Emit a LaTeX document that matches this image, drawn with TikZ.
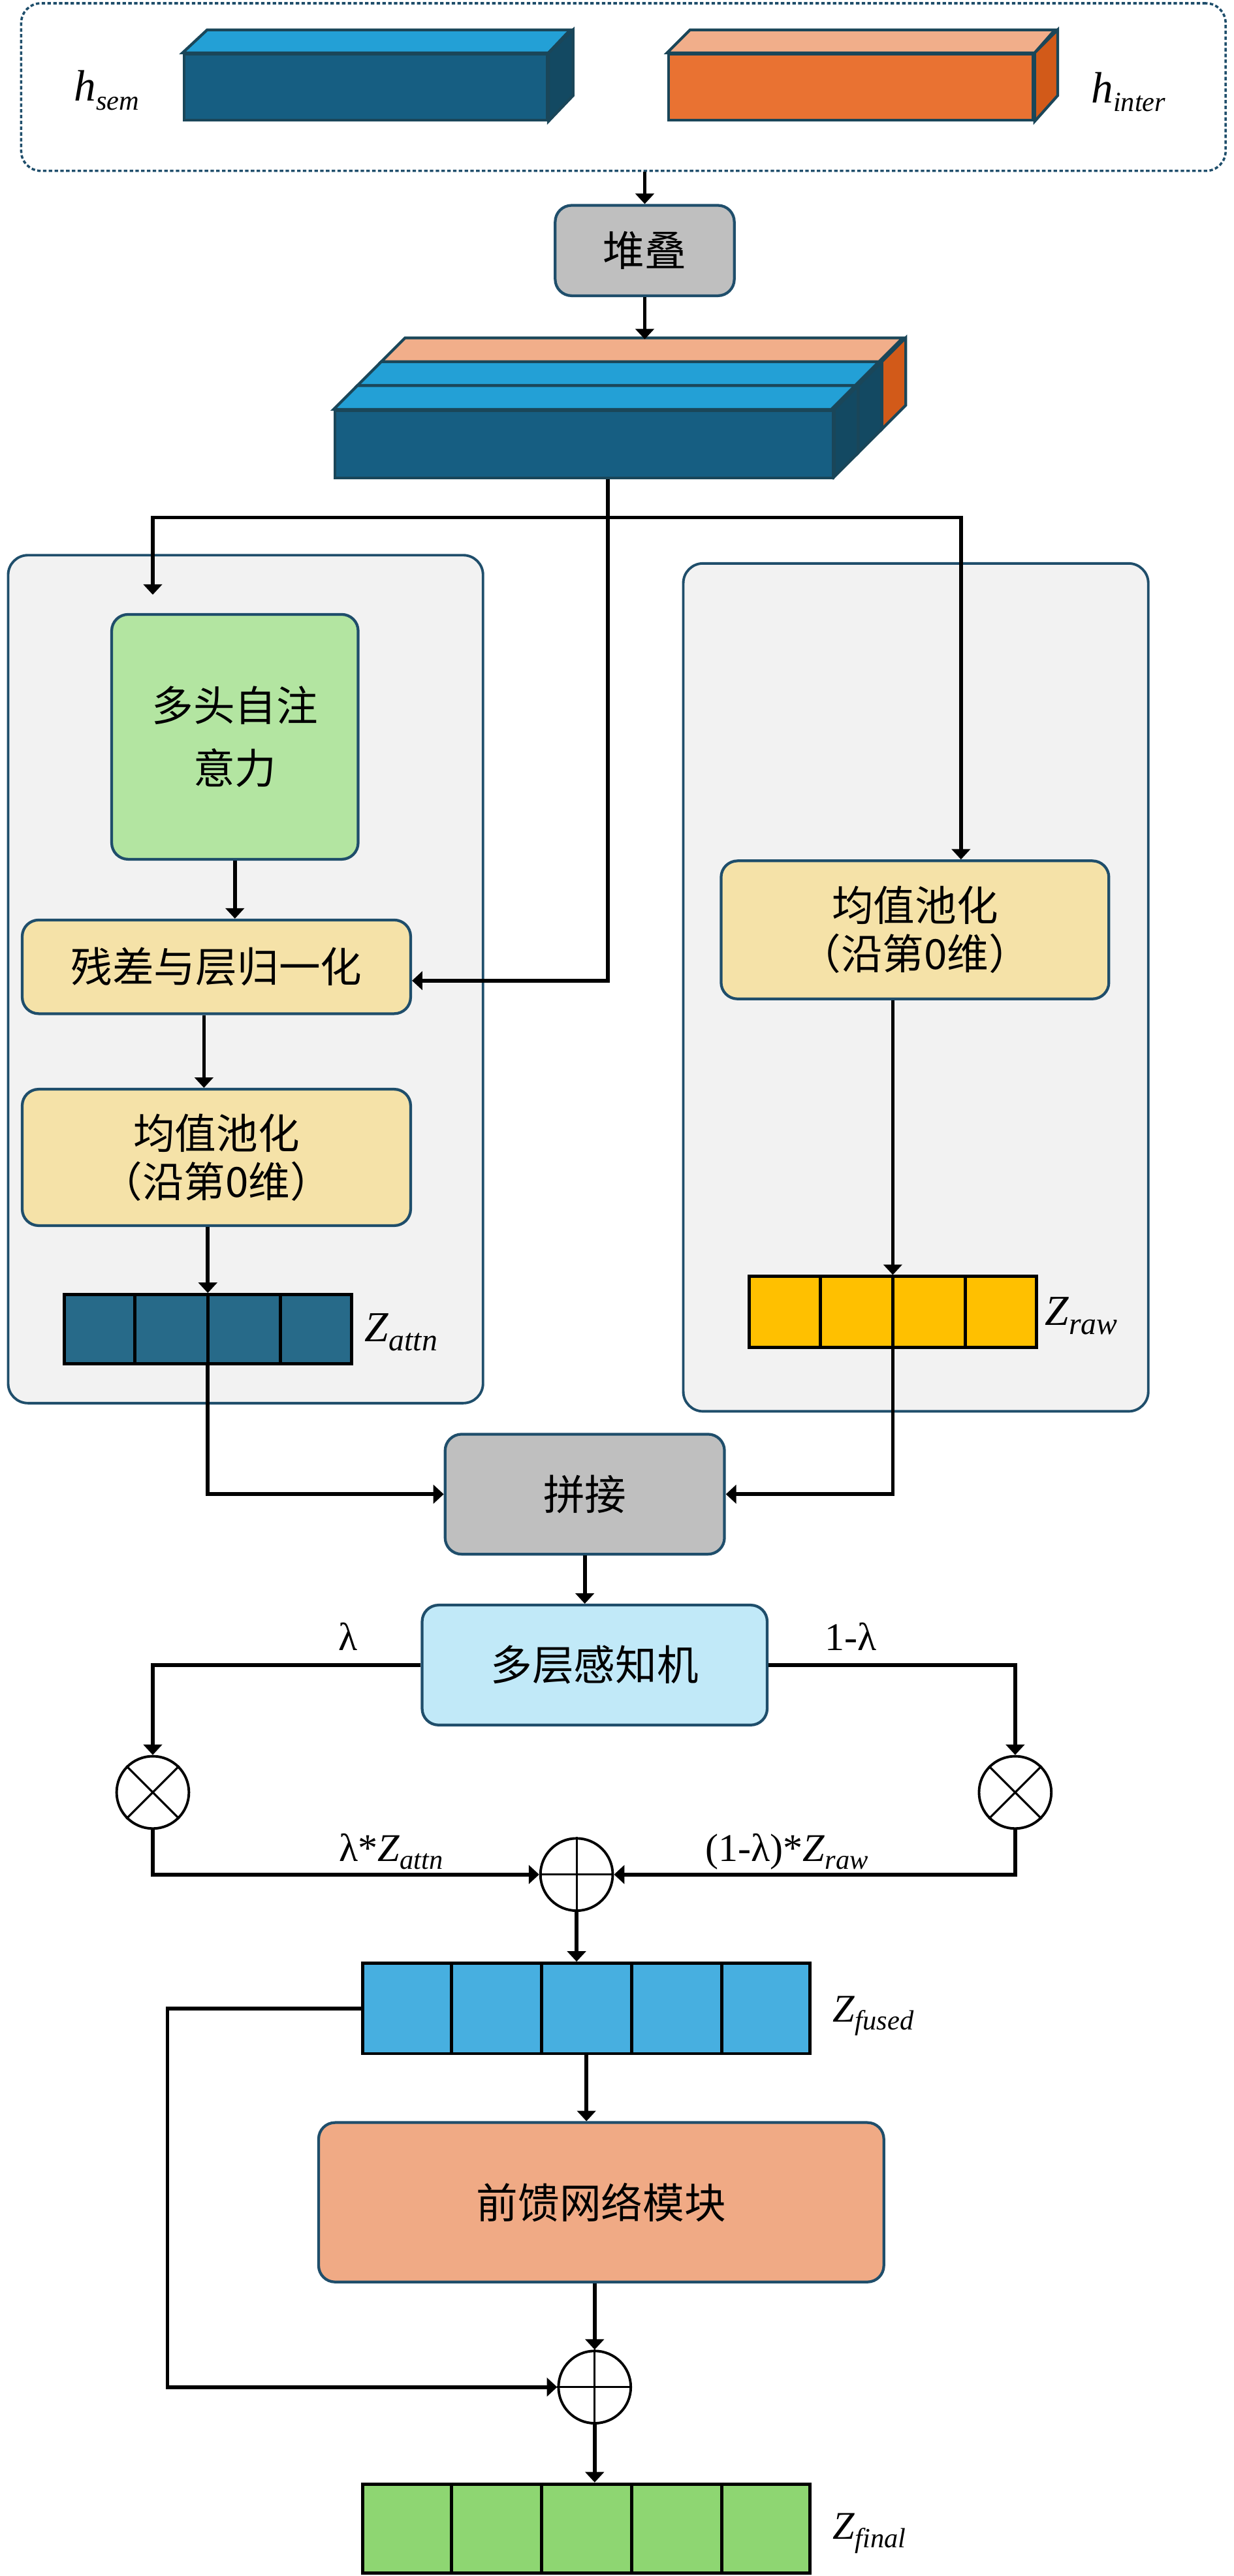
\documentclass[tikz,border=0pt]{standalone}
\usepackage{fontspec}
\setmainfont{Liberation Serif}
\newfontfamily\cjk{Noto Sans CJK SC}
\usetikzlibrary{calc,arrows.meta}
\definecolor{edgeblue}{HTML}{1F4E6B}
\definecolor{opgray}{HTML}{BFBFBF}
\definecolor{panelgray}{HTML}{F2F2F2}
\definecolor{attngreen}{HTML}{B3E5A1}
\definecolor{normyellow}{HTML}{F5E2A8}
\definecolor{mlpblue}{HTML}{C1E9F8}
\definecolor{ffnsalmon}{HTML}{F0AA85}
\definecolor{attnblue}{HTML}{276A89}
\definecolor{rawgold}{HTML}{FFC000}
\definecolor{fusedblue}{HTML}{47AFE0}
\definecolor{finalgreen}{HTML}{8ED672}
\definecolor{cubefront}{HTML}{165E82}
\definecolor{cubetop}{HTML}{23A0D6}
\definecolor{cubeside}{HTML}{134962}
\definecolor{cubeedge}{HTML}{1A4659}
\definecolor{orangefront}{HTML}{E97232}
\definecolor{orangetop}{HTML}{F1AE8A}
\definecolor{orangeside}{HTML}{D25A19}
\newcommand{\lbl}[3][12]{\textit{#2}\raisebox{-0.45ex}{\fontsize{#1}{#1}\selectfont\textit{#3}}}

\begin{document}
\begin{tikzpicture}[>={Triangle[length=4.5pt,width=8pt]},line width=1.6pt,x=0.025cm,y=-0.025cm,
  blk/.style={draw=edgeblue,line width=1.2pt,rounded corners=0.25cm,align=center,inner sep=0pt,font=\cjk\fontsize{18}{24}\selectfont},
  panel/.style={draw=edgeblue,line width=1.1pt,fill=panelgray,rounded corners=0.3cm,inner sep=0pt},
  bar/.style={draw=black,line width=1.4pt,inner sep=0pt},
  op/.style={draw=black,line width=1.1pt,circle,fill=white,minimum size=1.1cm,inner sep=0pt},
  cube/.style={draw=cubeedge,line width=1.2pt,inner sep=0pt},
  lab/.style={inner sep=0pt,font=\fontsize{17}{20}\selectfont}]
\useasboundingbox (0,0) rectangle (751,1568);

\node[draw=edgeblue,line width=1pt,dash pattern=on 1.5pt off 1pt,rounded corners=0.3cm,
  minimum width=18.325cm,minimum height=2.55cm] (inputs) at (379.5,53) {};
\node[cube,fill=cubefront,minimum width=5.525cm,minimum height=1cm] (hsem) at (222.5,53) {};
\draw[cube,fill=cubetop] (hsem.north west) -- ++(15,-14) -- ++(221,0) -- (hsem.north east) -- cycle;
\draw[cube,fill=cubeside] (hsem.north east) -- ++(15,-14) -- ++(0,40) -- (hsem.south east) -- cycle;
\node[cube,fill=orangefront,minimum width=5.55cm,minimum height=1cm] (hinter) at (518,53) {};
\draw[cube,fill=orangetop] (hinter.north west) -- ++(14,-14) -- ++(222,0) -- (hinter.north east) -- cycle;
\draw[cube,fill=orangeside] (hinter.north east) -- ++(14,-14) -- ++(0,40) -- (hinter.south east) -- cycle;
\node[lab,font=\fontsize{19}{20}\selectfont] (hsemlab) at (65,55) {\lbl{h}{sem}};
\node[lab,font=\fontsize{19}{20}\selectfont] (hinterlab) at (687,56) {\lbl{h}{inter}};

\node[blk,fill=opgray,minimum width=2.725cm,minimum height=1.375cm] (stackop) at (392.5,152.5) {堆叠};
\draw[->] (inputs.south -| stackop) -- (stackop.north);

\node[cube,fill=cubefront,minimum width=7.575cm,minimum height=1.025cm] (stack) at (355.5,270.5) {};
\foreach \k/\tc/\sc in {2/orangetop/orangeside,1/cubetop/cubeside,0/cubetop/cubeside}{
  \draw[cube,fill=\tc] ($(stack.north west)+(\k*14.5,-\k*14.5)$) -- ++(14.5,-14.5) -- ++(303,0) -- ++(-14.5,14.5) -- cycle;
  \draw[cube,fill=\sc] ($(stack.north east)+(\k*14.5,-\k*14.5)$) -- ++(14.5,-14.5) -- ++(0,41) -- ++(-14.5,14.5) -- cycle;
}
\coordinate (stacktop) at (392,206.5);
\draw[->] (stackop.south) -- (stackop.south |- stacktop);

\node[panel,minimum width=7.225cm,minimum height=12.9cm] (panelL) at (149.5,596) {};
\node[panel,minimum width=7.075cm,minimum height=12.9cm] (panelR) at (557.5,601) {};

\node[blk,fill=attngreen,minimum width=3.75cm,minimum height=3.725cm,font=\cjk\fontsize{18}{27}\selectfont] (mhsa) at (143,448.5) {多头自注\\意力};
\node[blk,fill=normyellow,minimum width=5.91cm,minimum height=1.425cm] (addnorm) at (131.75,588.5) {残差与层归一化};
\node[blk,fill=normyellow,minimum width=5.91cm,minimum height=2.075cm,font=\cjk\fontsize{18}{21}\selectfont] (poolL) at (131.75,704.5) {均值池化\\（沿第0维）};
\node[blk,fill=normyellow,minimum width=5.9cm,minimum height=2.1cm,font=\cjk\fontsize{18}{21}\selectfont] (poolR) at (557,566) {均值池化\\（沿第0维）};

\coordinate (split) at (370,315);
\coordinate (inL) at (93,362);
\coordinate (inR) at (585,315);
\draw (stack.south -| split) -- (split);
\draw[->] (split) -| (inL);
\draw[->] (split) -- (inR) -- (inR |- poolR.north);
\draw[->] (split) |- ([yshift=-0.21cm]addnorm.east);

\node[bar,fill=attnblue,minimum width=4.375cm,minimum height=1.05cm] (zattn) at (126.5,809) {};
\foreach \i in {1,2,3}
  \draw[line width=1.4pt] ($(zattn.north west)!\i/4!(zattn.north east)$) -- ($(zattn.south west)!\i/4!(zattn.south east)$);
\node[lab,anchor=west,font=\fontsize{18.5}{20}\selectfont] (zattnlab) at (221,811) {\lbl[13.5]{Z}{attn}};
\node[bar,fill=rawgold,minimum width=4.375cm,minimum height=1.075cm] (zraw) at (543.5,798.5) {};
\foreach \i in {1,2,3}
  \draw[line width=1.4pt] ($(zraw.north west)!\i/4!(zraw.north east)$) -- ($(zraw.south west)!\i/4!(zraw.south east)$);
\node[lab,anchor=west,font=\fontsize{18.5}{20}\selectfont] (zrawlab) at (635,801) {\lbl[13.5]{Z}{raw}};

\draw[->] (mhsa.south) -- (mhsa.south |- addnorm.north);
\draw[->] ([xshift=-0.19cm]addnorm.south) -- ([xshift=-0.19cm]addnorm.south |- poolL.north);
\draw[->] (poolL.south -| zattn) -- (zattn.north);
\draw[->] (poolR.south -| zraw) -- (zraw.north);

\node[blk,fill=opgray,minimum width=4.25cm,minimum height=1.825cm] (concat) at (356,909.5) {拼接};
\draw[->] (zattn.south) |- (concat.west);
\draw[->] (zraw.south) |- (concat.east);
\node[blk,fill=mlpblue,minimum width=5.25cm,minimum height=1.825cm] (mlp) at (362,1013.5) {多层感知机};
\draw[->] (concat.south) -- (concat.south |- mlp.north);

\node[op] (mulL) at (93,1091) {};
\draw[line width=0.9pt] (mulL.north west) -- (mulL.south east) (mulL.north east) -- (mulL.south west);
\node[op] (mulR) at (618,1091) {};
\draw[line width=0.9pt] (mulR.north west) -- (mulR.south east) (mulR.north east) -- (mulR.south west);
\node[op] (addA) at (351,1141) {};
\draw[line width=0.9pt] (addA.north) -- (addA.south) (addA.west) -- (addA.east);
\draw[->] (mlp.west) -| (mulL.north);
\draw[->] (mlp.east) -| (mulR.north);
\draw[->] (mulL.south) |- (addA.west);
\draw[->] (mulR.south) |- (addA.east);
\node[lab] (lam) at (212,996) {λ};
\node[lab] (lamc) at (518,996) {1-λ};
\node[lab] (wattn) at (238,1127) {λ*\lbl{Z}{attn}};
\node[lab] (wraw) at (479,1127) {(1-λ)*\lbl{Z}{raw}};

\node[bar,fill=fusedblue,minimum width=6.8cm,minimum height=1.375cm] (zfused) at (357,1222.5) {};
\foreach \i in {1,...,4}
  \draw[line width=1.4pt] ($(zfused.north west)!\i/5!(zfused.north east)$) -- ($(zfused.south west)!\i/5!(zfused.south east)$);
\node[lab,anchor=west] (zfusedlab) at (506,1227) {\lbl{Z}{fused}};
\draw[->] (addA.south) -- (addA.south |- zfused.north);

\node[blk,fill=ffnsalmon,minimum width=8.6cm,minimum height=2.425cm] (ffn) at (366,1340.5) {前馈网络模块};
\draw[->] (zfused.south) -- (zfused.south |- ffn.north);
\node[op] (addB) at (362,1453) {};
\draw[line width=0.9pt] (addB.north) -- (addB.south) (addB.west) -- (addB.east);
\draw[->] (ffn.south -| addB) -- (addB.north);
\coordinate (resid) at (102,1453);
\draw[->] (zfused.west) -| (resid) |- (addB.west);

\node[bar,fill=finalgreen,minimum width=6.8cm,minimum height=1.35cm] (zfinal) at (357,1539) {};
\foreach \i in {1,...,4}
  \draw[line width=1.4pt] ($(zfinal.north west)!\i/5!(zfinal.north east)$) -- ($(zfinal.south west)!\i/5!(zfinal.south east)$);
\draw[->] (addB.south) -- (addB.south |- zfinal.north);
\node[lab,anchor=west] (zfinallab) at (506,1542) {\lbl{Z}{final}};
\end{tikzpicture}
\end{document}
